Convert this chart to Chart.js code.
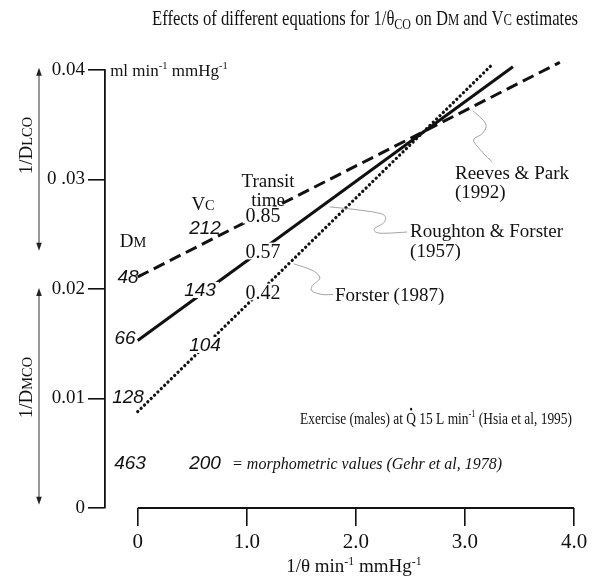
<!DOCTYPE html>
<html>
<head>
<meta charset="utf-8">
<script src="https://cdn.jsdelivr.net/npm/chart.js@4.4.1/dist/chart.umd.min.js"></script>
<style>
html, body { margin: 0; padding: 0; background: #fff; }
canvas { display: block; }
</style>
</head>
<body>
<canvas id="chart" width="597" height="577"></canvas>
<script>
// line ends: x = 1/theta, y = 1/DL
var reevesX = [0, 3.87];
var reevesY = [0.0211, 0.0407];
var roughtonX = [0, 3.44];
var roughtonY = [0.0153, 0.0403];
var forsterX = [0, 3.26];
var forsterY = [0.0088, 0.0406];

var xTicks = [0, 1, 2, 3, 4];
var xTickLabels = ['0', '1.0', '2.0', '3.0', '4.0'];
var yTicks = [0, 0.01, 0.02, 0.03, 0.04];
var yTickLabels = ['0', '0.01', '0.02', '0 .03', '0.04'];

var SERIF = '"Liberation Serif", "Times New Roman", serif';
var SANS = '"Liberation Sans", Arial, sans-serif';
var INK = '#111';

function pts(xs, ys) {
    return xs.map(function(x, i){ return {x: x, y: ys[i]}; });
}

// text notes placed in data units
var notes = [
    {x: 1.195, y: 0.02995, t: ['Transit'], size: 19, align: 'center'},
    {x: 1.195, y: 0.02813, t: ['time'], size: 19, align: 'center'},
    {x: 0.599, y: 0.02785, t: ['V', ['C', 'sc']], size: 19, align: 'center'},
    {x: -0.043, y: 0.02447, t: ['D', ['M', 'sc']], size: 19, align: 'center'},
    {x: 1.149, y: 0.02676, t: ['0.85'], size: 20, align: 'center', bg: true},
    {x: 1.149, y: 0.02347, t: ['0.57'], size: 20, align: 'center', bg: true},
    {x: 1.149, y: 0.01973, t: ['0.42'], size: 20, align: 'center', bg: true},
    {x: 0.617, y: 0.02557, t: ['212'], size: 19, align: 'center', italic: true, sans: true},
    {x: -0.089, y: 0.0211, t: ['48'], size: 19, align: 'center', italic: true, sans: true},
    {x: 0.571, y: 0.01991, t: ['143'], size: 19, align: 'center', italic: true, sans: true, bg: true},
    {x: -0.116, y: 0.01553, t: ['66'], size: 19, align: 'center', italic: true, sans: true},
    {x: 0.617, y: 0.01489, t: ['104'], size: 19, align: 'center', italic: true, sans: true, bg: true},
    {x: -0.089, y: 0.01014, t: ['128'], size: 19, align: 'center', italic: true, sans: true},
    {x: -0.071, y: 0.00411, t: ['463'], size: 19, align: 'center', italic: true, sans: true},
    {x: 0.617, y: 0.00411, t: ['200'], size: 19, align: 'center', italic: true, sans: true},
    {x: 0.865, y: 0.00411, t: ['= morphometric values (Gehr et al, 1978)'], size: 17, italic: true, w: 270},
    {x: 1.488, y: 0.00822, t: ['Exercise (males) at ', ['Q', 'dot'], ' 15 L min', ['-1', 'sup'], ' (Hsia et al, 1995)'], size: 17, w: 272},
    {x: 2.909, y: 0.03068, t: ['Reeves & Park'], size: 19},
    {x: 2.909, y: 0.02886, t: ['(1992)'], size: 19},
    {x: 2.497, y: 0.0253, t: ['Roughton & Forster'], size: 19},
    {x: 2.497, y: 0.02347, t: ['(1957)'], size: 19},
    {x: 1.809, y: 0.01945, t: ['Forster (1987)'], size: 19},
    {x: -0.253, y: 0.0400, t: ['ml min', ['-1', 'sup'], ' mmHg', ['-1', 'sup']], size: 17}
];

// thin wavy leaders from the labels to their lines
var leaders = [
    [[3.07, 0.0363], [3.19, 0.0351], [3.16, 0.0342], [3.08, 0.0336], [3.16, 0.0325], [3.25, 0.0316]],
    [[1.76, 0.0275], [2.04, 0.0272], [2.25, 0.0268], [2.26, 0.0261], [2.17, 0.0255], [2.22, 0.0251], [2.47, 0.0252]],
    [[1.43, 0.0223], [1.60, 0.0217], [1.67, 0.0210], [1.60, 0.0203], [1.60, 0.0198], [1.69, 0.0195], [1.79, 0.0195]]
];

function partSize(kind, size) {
    if (kind === 'sup') return size * 0.62;
    if (kind === 'sub') return size * 0.72;
    if (kind === 'sc') return size * 0.76;
    return size;
}

function layoutRich(ctx, parts, o) {
    var fam = o.sans ? SANS : SERIF;
    var segs = parts.map(function(p){ return typeof p === 'string' ? {t: p, k: ''} : {t: p[0], k: p[1]}; });
    var nat = 0;
    segs.forEach(function(s){
        s.size = partSize(s.k, o.size);
        s.font = (o.italic ? 'italic ' : '') + s.size.toFixed(1) + 'px ' + fam;
        ctx.font = s.font;
        s.w = ctx.measureText(s.t).width;
        nat += s.w;
    });
    return {segs: segs, nat: nat, sx: o.w ? o.w / nat : 1};
}

function drawRich(ctx, parts, x, y, o, bgOnly) {
    var size = o.size;
    var L = layoutRich(ctx, parts, o);
    ctx.save();
    ctx.translate(x, y);
    if (o.rot) ctx.rotate(o.rot);
    ctx.scale(L.sx, 1);
    var cx = o.align === 'center' ? -L.nat / 2 : (o.align === 'right' ? -L.nat : 0);
    if (bgOnly) {
        ctx.fillStyle = '#fff';
        ctx.fillRect(cx - 3, -size * 0.42, L.nat + 6, size * 0.84);
        ctx.restore();
        return;
    }
    ctx.fillStyle = INK;
    ctx.textAlign = 'left';
    ctx.textBaseline = 'alphabetic';
    var base = size * 0.34;
    L.segs.forEach(function(s){
        var dy = 0;
        if (s.k === 'sup') dy = -size * 0.4;
        if (s.k === 'sub') dy = size * 0.18;
        ctx.font = s.font;
        ctx.fillText(s.t, cx, base + dy);
        if (s.k === 'dot') {
            ctx.beginPath();
            ctx.arc(cx + s.w / 2, base - size * 0.86, size * 0.08, 0, Math.PI * 2);
            ctx.fill();
        }
        cx += s.w;
    });
    ctx.restore();
}

function vArrow(ctx, x, y1, y2) {
    ctx.save();
    ctx.strokeStyle = '#333';
    ctx.fillStyle = '#222';
    ctx.lineWidth = 1;
    ctx.beginPath();
    ctx.moveTo(x, y1 + 4);
    ctx.lineTo(x, y2 - 4);
    ctx.stroke();
    [[y1, 1], [y2, -1]].forEach(function(a){
        ctx.beginPath();
        ctx.moveTo(x, a[0]);
        ctx.lineTo(x - 2.8, a[0] + a[1] * 8);
        ctx.lineTo(x + 2.8, a[0] + a[1] * 8);
        ctx.closePath();
        ctx.fill();
    });
    ctx.restore();
}

var decor = {
    id: 'decor',
    afterDraw: function(chart) {
        var ctx = chart.ctx;
        var xs = chart.scales.x, ys = chart.scales.y;
        var X = function(v){ return xs.getPixelForValue(v); };
        var Y = function(v){ return ys.getPixelForValue(v); };

        // x axis line spans only 0..4
        ctx.save();
        ctx.strokeStyle = INK;
        ctx.lineWidth = 1.8;
        ctx.beginPath();
        ctx.moveTo(X(xTicks[0]), Y(0));
        ctx.lineTo(X(xTicks[xTicks.length - 1]), Y(0));
        ctx.stroke();

        // leaders
        ctx.strokeStyle = '#8a8a8a';
        ctx.lineWidth = 0.8;
        leaders.forEach(function(l){
            var p = l.map(function(q){ return [X(q[0]), Y(q[1])]; });
            ctx.beginPath();
            ctx.moveTo(p[0][0], p[0][1]);
            for (var i = 0; i < p.length - 1; i++) {
                var p0 = p[Math.max(i - 1, 0)], p1 = p[i], p2 = p[i + 1], p3 = p[Math.min(i + 2, p.length - 1)];
                ctx.bezierCurveTo(p1[0] + (p2[0] - p0[0]) / 6, p1[1] + (p2[1] - p0[1]) / 6,
                                  p2[0] - (p3[0] - p1[0]) / 6, p2[1] - (p3[1] - p1[1]) / 6,
                                  p2[0], p2[1]);
            }
            ctx.stroke();
        });
        ctx.restore();

        // white gaps under labels sitting on the lines, then all text
        notes.forEach(function(n){
            if (n.bg) drawRich(ctx, n.t, X(n.x), Y(n.y), n, true);
        });
        notes.forEach(function(n){
            drawRich(ctx, n.t, X(n.x), Y(n.y), n);
        });

        // title
        drawRich(ctx, ['Effects of different equations for 1/\u03b8', ['CO', 'sub'], ' on D', ['M', 'sc'], ' and V', ['C', 'sc'], ' estimates'],
                 365, 18, {size: 21, align: 'center', w: 426});

        // x axis title
        drawRich(ctx, ['1/\u03b8 min', ['-1', 'sup'], ' mmHg', ['-1', 'sup']], X(2) - 2, chart.height - 11, {size: 19, align: 'center'});

        // left side labels with arrows
        drawRich(ctx, ['1/D', ['LCO', 'sc']], 26, Y(0.0331), {size: 19, align: 'center', rot: -Math.PI / 2});
        drawRich(ctx, ['1/D', ['MCO', 'sc']], 26, Y(0.011), {size: 19, align: 'center', rot: -Math.PI / 2});
        vArrow(ctx, 39, Y(0.0402), Y(0.0235));
        vArrow(ctx, 39, Y(0.0201), Y(0.0003));
    }
};

new Chart(document.getElementById('chart'), {
    type: 'line',
    data: {
        datasets: [
            {label: 'Reeves & Park (1992)', data: pts(reevesX, reevesY), borderColor: INK, borderWidth: 3, borderDash: [12, 6], pointRadius: 0, clip: false},
            {label: 'Roughton & Forster (1957)', data: pts(roughtonX, roughtonY), borderColor: INK, borderWidth: 3, pointRadius: 0, clip: false},
            {label: 'Forster (1987)', data: pts(forsterX, forsterY), borderColor: INK, borderWidth: 3.2, borderDash: [0.1, 4.6], borderCapStyle: 'round', pointRadius: 0, clip: false}
        ]
    },
    options: {
        responsive: false,
        animation: false,
        layout: {padding: {top: 70, right: 23, left: 0, bottom: 0}},
        plugins: {legend: {display: false}, tooltip: {enabled: false}, title: {display: false}},
        scales: {
            x: {
                type: 'linear',
                min: -0.3,
                max: 4.0,
                afterBuildTicks: function(s){ s.ticks = xTicks.map(function(v){ return {value: v}; }); },
                afterFit: function(s){ s.height = 69; },
                ticks: {
                    callback: function(v){ return xTickLabels[xTicks.indexOf(v)]; },
                    font: {family: SERIF, size: 21},
                    color: INK,
                    padding: 4,
                    maxRotation: 0,
                    autoSkip: false
                },
                grid: {drawOnChartArea: false, drawTicks: true, tickLength: 18, color: INK, lineWidth: 1.6},
                border: {display: false}
            },
            y: {
                min: 0,
                max: 0.04,
                afterBuildTicks: function(s){ s.ticks = yTicks.map(function(v){ return {value: v}; }); },
                afterFit: function(s){ s.width = 105; },
                ticks: {
                    callback: function(v){ return yTickLabels[yTicks.indexOf(v)]; },
                    font: {family: SERIF, size: 19},
                    color: INK,
                    padding: 3,
                    autoSkip: false
                },
                grid: {drawOnChartArea: false, drawTicks: true, tickLength: 17, color: INK, lineWidth: 1.6},
                border: {display: true, color: INK, width: 1.8}
            }
        }
    },
    plugins: [decor]
});
</script>
</body>
</html>
